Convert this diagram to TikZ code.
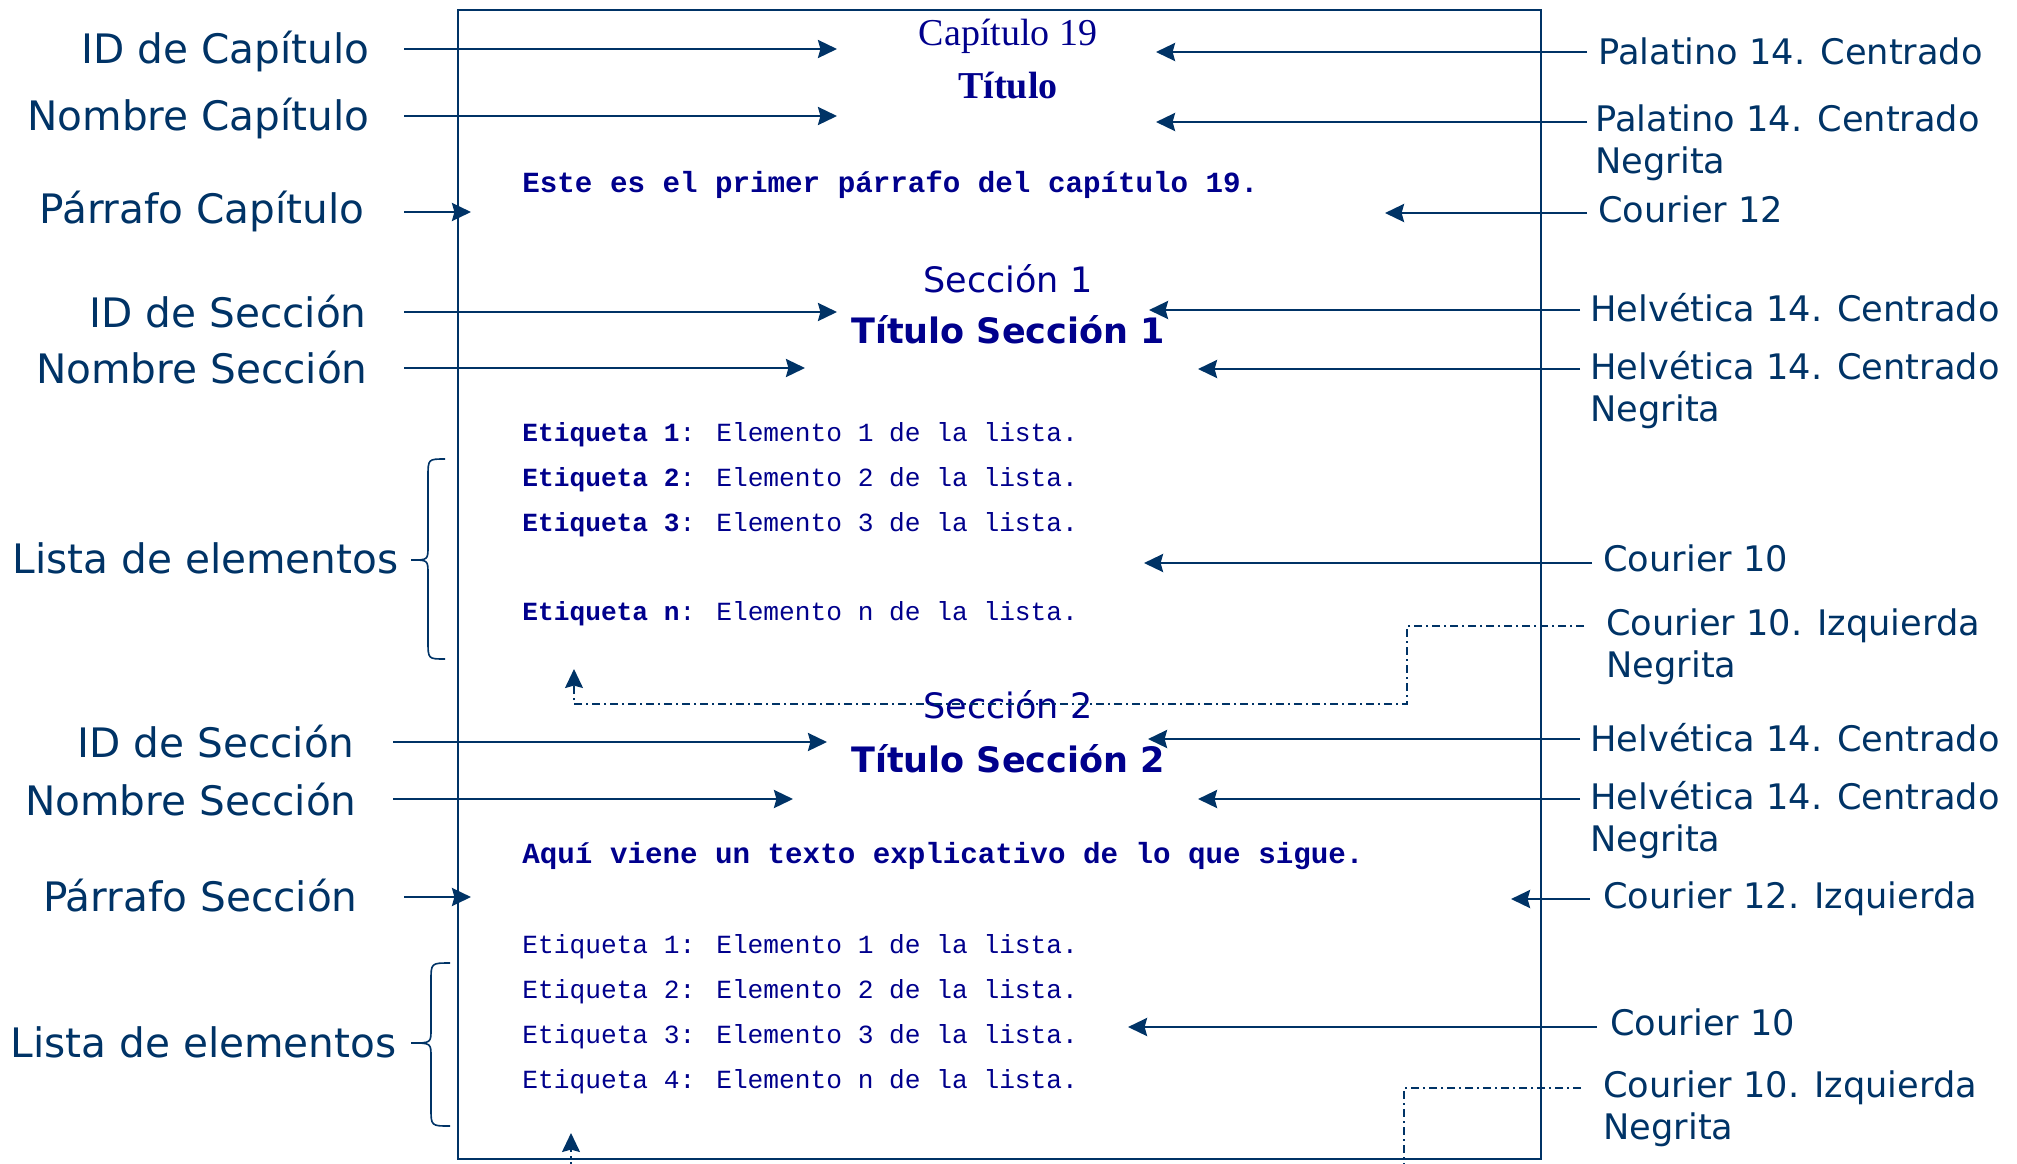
\documentclass[tikz,border=0pt]{standalone}
\usepackage{fontspec}
\setmainfont{DejaVu Sans}
\newfontfamily\palfont{Liberation Serif}
\newfontfamily\courfont{Liberation Mono}
\newfontfamily\helvfont{DejaVu Sans}
\usetikzlibrary{arrows.meta}

\definecolor{lblue}{HTML}{003366}
\definecolor{pnavy}{HTML}{00008C}

\tikzset{
  lbl/.style={text=lblue, inner sep=0pt, anchor=base east, font=\fontsize{20.3}{24}\selectfont},
  rlbl/.style={text=lblue, inner sep=0pt, anchor=base west, font=\fontsize{17.6}{21}\selectfont},
  tip/.style={-{Stealth[length=9.5pt,width=9pt,inset=1.2pt]}},
  arr/.style={draw=lblue, line width=1.35pt, tip},
  dd/.style={draw=lblue, line width=0.7pt, dash pattern=on 4pt off 2pt on 1pt off 2pt, tip},
  brc/.style={draw=lblue, line width=0.8pt},
  pageframe/.style={draw=lblue, line width=1.1pt, inner sep=0pt},
  pg/.style={text=pnavy, inner sep=0pt},
  paltxt/.style={pg, anchor=base, font=\palfont\fontsize{19}{22}\selectfont},
  heltxt/.style={pg, anchor=base, font=\helvfont\fontsize{17.5}{21}\selectfont},
  cbig/.style={pg, anchor=base west, font=\courfont\bfseries\fontsize{14.6}{17}\selectfont},
  csmall/.style={pg, anchor=base west, font=\courfont\fontsize{13.1}{15}\selectfont},
}

\newcommand{\twolines}[2]{\begin{tabular}[t]{@{}l@{}}#1\\#2\end{tabular}}

\begin{document}
\begin{tikzpicture}[x=0.5pt,y=-0.5pt]
\useasboundingbox (0,0) rectangle (2017,1163);
\clip (0,0) rectangle (2017,1163);

% the page
\node[pageframe, anchor=north west, minimum width=541.5pt, minimum height=574.5pt] (page) at (457,9) {};

% page contents: chapter
\node[paltxt] (capid) at (1008,45) {Capítulo 19};
\node[paltxt, font=\palfont\bfseries\fontsize{19}{22}\selectfont] (captit) at (1008,98) {Título};
\node[cbig] (cappar) at (522,192) {Este es el primer párrafo del capítulo 19.};

% section 1
\node[heltxt] (s1id) at (1008,292) {Sección 1};
\node[heltxt, font=\helvfont\bfseries\fontsize{17.5}{21}\selectfont] (s1tit) at (1008,343) {Título Sección 1};
\node[csmall] (l1a) at (522,441) {\textbf{Etiqueta 1}: Elemento 1 de la lista.};
\node[csmall] (l1b) at (522,486) {\textbf{Etiqueta 2}: Elemento 2 de la lista.};
\node[csmall] (l1c) at (522,531) {\textbf{Etiqueta 3}: Elemento 3 de la lista.};
\node[csmall] (l1n) at (522,620) {\textbf{Etiqueta n}: Elemento n de la lista.};

% section 2
\node[heltxt] (s2id) at (1008,718) {Sección 2};
\node[heltxt, font=\helvfont\bfseries\fontsize{17.5}{21}\selectfont] (s2tit) at (1008,772) {Título Sección 2};
\node[cbig] (secpar) at (522,863) {Aquí viene un texto explicativo de lo que sigue.};
\node[csmall] (l2a) at (522,953) {Etiqueta 1: Elemento 1 de la lista.};
\node[csmall] (l2b) at (522,998) {Etiqueta 2: Elemento 2 de la lista.};
\node[csmall] (l2c) at (522,1043) {Etiqueta 3: Elemento 3 de la lista.};
\node[csmall] (l2d) at (522,1088) {Etiqueta 4: Elemento n de la lista.};

% left-hand labels
\node[lbl] (lid1)   at (370,63)   {ID de Capítulo};
\node[lbl] (lnom1)  at (370,130)  {Nombre Capítulo};
\node[lbl] (lpar1)  at (365,223)  {Párrafo Capítulo};
\node[lbl] (lid2)   at (367,327)  {ID de Sección};
\node[lbl] (lnom2)  at (368,383)  {Nombre Sección};
\node[lbl] (llist1) at (399,573)  {Lista de elementos};
\node[lbl] (lid3)   at (355,757)  {ID de Sección};
\node[lbl] (lnom3)  at (357,815)  {Nombre Sección};
\node[lbl] (lpar2)  at (358,911)  {Párrafo Sección};
\node[lbl] (llist2) at (397,1057) {Lista de elementos};

% right-hand labels
\node[rlbl] (r1)  at (1598,64)   {Palatino 14. Centrado};
\node[rlbl] (r2)  at (1595,131)  {\twolines{Palatino 14. Centrado}{Negrita}};
\node[rlbl] (r3)  at (1598,222)  {Courier 12};
\node[rlbl] (r4)  at (1590,321)  {Helvética 14. Centrado};
\node[rlbl] (r5)  at (1590,379)  {\twolines{Helvética 14. Centrado}{Negrita}};
\node[rlbl] (r6)  at (1603,571)  {Courier 10};
\node[rlbl] (r7)  at (1606,635)  {\twolines{Courier 10. Izquierda}{Negrita}};
\node[rlbl] (r8)  at (1590,751)  {Helvética 14. Centrado};
\node[rlbl] (r9)  at (1590,809)  {\twolines{Helvética 14. Centrado}{Negrita}};
\node[rlbl] (r10) at (1603,908)  {Courier 12. Izquierda};
\node[rlbl] (r11) at (1610,1035) {Courier 10};
\node[rlbl] (r12) at (1603,1097) {\twolines{Courier 10. Izquierda}{Negrita}};

% arrow tips
\coordinate (a1) at (837,49);
\coordinate (a2) at (837,116);
\coordinate (a3) at (471,212);
\coordinate (a4) at (837,312);
\coordinate (a5) at (805,368);
\coordinate (a6) at (827,742);
\coordinate (a7) at (793,799);
\coordinate (a8) at (471,897);
\coordinate (b1) at (1156,52);
\coordinate (b2) at (1156,122);
\coordinate (b3) at (1385,213);
\coordinate (b4) at (1149,310);
\coordinate (b5) at (1198,369);
\coordinate (b6) at (1144,563);
\coordinate (b8) at (1148,739);
\coordinate (b9) at (1198,799);
\coordinate (b10) at (1511,899);
\coordinate (b11) at (1128,1027);

% left-hand arrows
\draw[arr, shorten <=17pt]   (lid1.east  |- a1) -- (a1);
\draw[arr, shorten <=17pt]   (lnom1.east |- a2) -- (a2);
\draw[arr, shorten <=19.5pt] (lpar1.east |- a3) -- (a3);
\draw[arr, shorten <=18.5pt] (lid2.east  |- a4) -- (a4);
\draw[arr, shorten <=18pt]   (lnom2.east |- a5) -- (a5);
\draw[arr, shorten <=19pt]   (lid3.east  |- a6) -- (a6);
\draw[arr, shorten <=18pt]   (lnom3.east |- a7) -- (a7);
\draw[arr, shorten <=23pt]   (lpar2.east |- a8) -- (a8);

% right-hand arrows
\draw[arr, shorten <=5.5pt] (r1.west  |- b1)  -- (b1);
\draw[arr, shorten <=4pt]   (r2.west  |- b2)  -- (b2);
\draw[arr, shorten <=5.5pt] (r3.west  |- b3)  -- (b3);
\draw[arr, shorten <=5pt]   (r4.west  |- b4)  -- (b4);
\draw[arr, shorten <=5pt]   (r5.west  |- b5)  -- (b5);
\draw[arr, shorten <=5.5pt] (r6.west  |- b6)  -- (b6);
\draw[arr, shorten <=5pt]   (r8.west  |- b8)  -- (b8);
\draw[arr, shorten <=5pt]   (r9.west  |- b9)  -- (b9);
\draw[arr, shorten <=6.5pt] (r10.west |- b10) -- (b10);
\draw[arr, shorten <=6.5pt] (r11.west |- b11) -- (b11);

% dash-dotted leaders to the list labels
\coordinate (d1) at (1584,626);
\coordinate (k1) at (1407,704);
\coordinate (c1) at (574,669);
\draw[dd, shorten <=11pt] (r7.west |- d1) -| (k1) -| (c1);
\coordinate (d2) at (1581,1088);
\coordinate (k2) at (1404,1200);
\coordinate (c2) at (571,1133);
\draw[dd, shorten <=11pt] (r12.west |- d2) -| (k2) -| (c2);

% braces for the lists
\draw[brc] (445,459) .. controls (428,459) .. (428,477) -- (428,546)
  .. controls (428,560) .. (411,560) .. controls (428,560) .. (428,574)
  -- (428,641) .. controls (428,659) .. (445,659);
\draw[brc] (450,963) .. controls (431,963) .. (431,981) -- (431,1029)
  .. controls (431,1043) .. (411,1043) .. controls (431,1043) .. (431,1057)
  -- (431,1108) .. controls (431,1126) .. (450,1126);
\end{tikzpicture}
\end{document}
